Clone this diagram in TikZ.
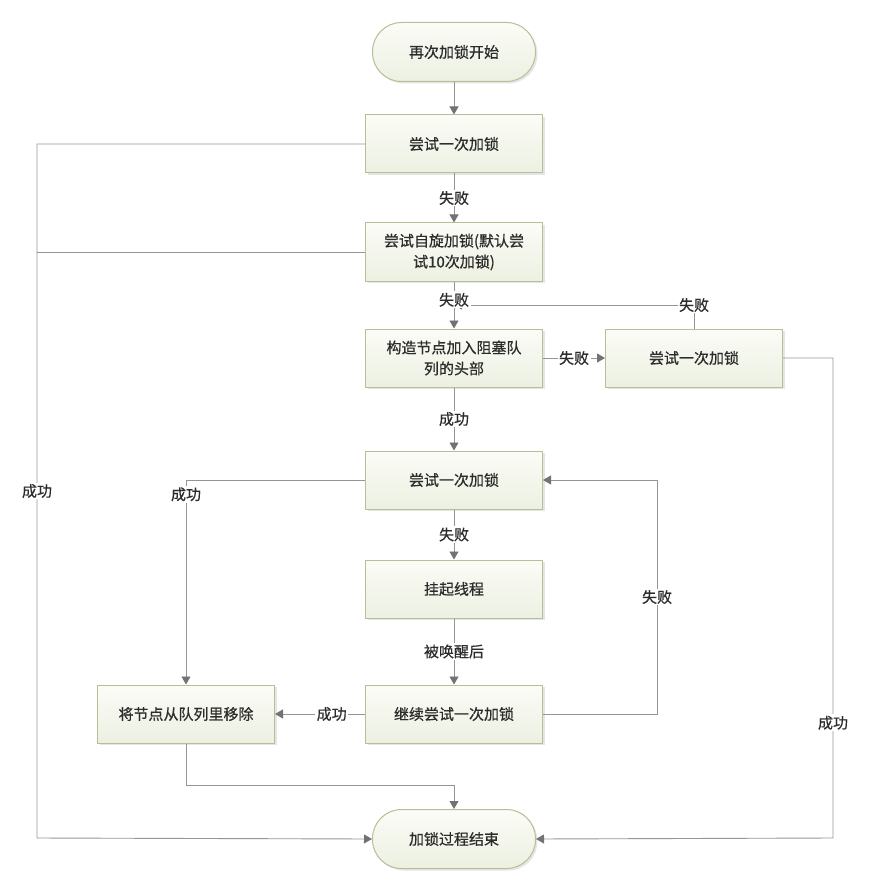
\documentclass[tikz,border=0pt]{standalone}
\usepackage{fontspec}
\newfontfamily\cjk[FakeBold=0.6]{Noto Sans CJK SC}
\usetikzlibrary{arrows.meta,shadows,positioning}
\definecolor{bordc}{HTML}{B6C096}
\definecolor{topc}{HTML}{FBFCF7}
\definecolor{botc}{HTML}{ECF0E1}
\definecolor{linec}{HTML}{959595}
\definecolor{tipc}{HTML}{727272}
\definecolor{txtc}{HTML}{2C2C2C}
\tikzset{
  every node/.style={font=\cjk\fontsize{15}{21}\selectfont, text=txtc},
  boxnode/.style={draw=bordc, line width=1pt, top color=topc, bottom color=botc,
    minimum width=177pt, minimum height=58pt, inner sep=2pt, align=center,
    drop shadow={shadow xshift=2pt, shadow yshift=-2pt, opacity=0.25, fill=black!40}},
  termnode/.style={boxnode, rounded corners=29pt, minimum width=163pt, minimum height=59pt},
  lbl/.style={fill=white, inner sep=1.5pt},
  conn/.style={draw=linec, line width=0.9pt},
  arr/.style={conn, -{Triangle[length=8pt,width=9pt,fill=tipc,color=tipc]}},
}
\begin{document}
\begin{tikzpicture}[x=1pt,y=-1pt]
\useasboundingbox (0,0) rectangle (871,882);
\node[termnode] (start) at (454,52) {再次加锁开始};
\node[boxnode] (b1) at (454,144) {尝试一次加锁};
\node[boxnode] (b2) at (454,252) {尝试自旋加锁(默认尝\\试10次加锁)};
\node[boxnode] (b3) at (454,358) {构造节点加入阻塞队\\列的头部};
\node[boxnode] (r1) at (694,358) {尝试一次加锁};
\node[boxnode] (b4) at (454,480) {尝试一次加锁};
\node[boxnode] (b5) at (454,589) {挂起线程};
\node[boxnode] (b6) at (454,714) {继续尝试一次加锁};
\node[boxnode] (b7) at (186,714) {将节点从队列里移除};
\node[termnode] (end) at (454,839) {加锁过程结束};

\coordinate (j) at (454,305);
\coordinate (ll) at (37,838);
\coordinate (rr1) at (833,358);
\coordinate (rr2) at (833,838);
\coordinate (lp1) at (657,714);
\coordinate (lp2) at (657,480);
\coordinate (sc) at (186,480);
\coordinate (bb1) at (186,785);
\coordinate (bb2) at (454,785);

\draw[arr] (start) -- (b1);
\draw[arr] (b1) -- node[lbl]{失败} (b2);
\draw[arr] (r1.north) |- node[lbl]{失败} (j);
\draw[arr] (b2) -- node[lbl,pos=0.39]{失败} (b3);
\draw[arr] (b3) -- node[lbl]{失败} (r1);
\draw[arr] (r1.east) -- (rr1) -- node[lbl,pos=0.76]{成功} (rr2) -- (end.east);
\draw[arr] (b3) -- node[lbl]{成功} (b4);
\draw[arr] (b4) -- node[lbl]{失败} (b5);
\draw[arr] (b5) -- node[lbl]{被唤醒后} (b6);
\draw[arr] (b6) -- node[lbl,pos=0.37]{成功} (b7);
\draw[arr] (b6.east) -- (lp1) -- node[lbl]{失败} (lp2) -- (b4.east);
\draw[arr] (b4.west) -- (sc) -- node[lbl,pos=0.07]{成功} (b7.north);
\draw[arr] (b7.south) -- (bb1) -- (bb2) -- (end.north);
\draw[arr] (b1.west) -| node[lbl,pos=0.75]{成功} (ll) -- (end.west);
\draw[conn] (b2.west) -- (37,252);
\end{tikzpicture}
\end{document}
